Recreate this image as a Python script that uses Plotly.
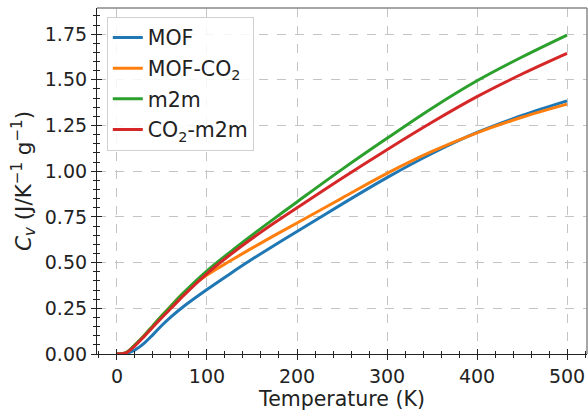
import plotly.graph_objects as go

# Temperature (K)
temperature = [0, 10, 20, 30, 40, 50, 60, 75, 100, 125, 150, 175, 200, 250, 300, 350, 400, 450, 500]

# Heat capacity Cv (J/K^-1 g^-1)
cv_mof = [0, 0.003, 0.022, 0.058, 0.106, 0.157, 0.203, 0.264, 0.353, 0.437, 0.518, 0.595, 0.67, 0.82, 0.965, 1.097, 1.212, 1.305, 1.385]
cv_mof_co2 = [0, 0.008, 0.05, 0.10, 0.155, 0.21, 0.263, 0.338, 0.432, 0.507, 0.579, 0.649, 0.717, 0.853, 0.988, 1.108, 1.21, 1.295, 1.367]
cv_m2m = [0, 0.008, 0.05, 0.10, 0.155, 0.21, 0.263, 0.34, 0.455, 0.555, 0.65, 0.742, 0.832, 1.01, 1.18, 1.345, 1.495, 1.625, 1.745]
cv_co2_m2m = [0, 0.006, 0.045, 0.095, 0.148, 0.20, 0.25, 0.325, 0.44, 0.54, 0.632, 0.718, 0.80, 0.962, 1.118, 1.268, 1.408, 1.532, 1.645]

series_names = ["MOF", "MOF-CO<sub>2</sub>", "m2m", "CO<sub>2</sub>-m2m"]
series_values = [cv_mof, cv_mof_co2, cv_m2m, cv_co2_m2m]
colors = ["#1f77b4", "#ff7f0e", "#2ca02c", "#d62728"]

x_ticks = [0, 100, 200, 300, 400, 500]
y_ticks = [0.00, 0.25, 0.50, 0.75, 1.00, 1.25, 1.50, 1.75]

X_RANGE = [-22.2, 522.2]
Y_RANGE = [0, 1.893]
FONT = "DejaVu Sans"

fig = go.Figure()
for i, (name, vals, col) in enumerate(zip(series_names, series_values, colors)):
    fig.add_trace(go.Scatter(
        x=temperature, y=vals, name=name, mode="lines",
        line=dict(color=col, width=3, shape="spline", smoothing=1.0),
        legendgroup=f"g{i}",
    ))

# invisible trace to activate overlay axes (inside ticks)
fig.add_trace(go.Scatter(x=[temperature[0]], y=[cv_mof[0]], xaxis="x2", yaxis="y2",
                         mode="markers", marker=dict(opacity=0), showlegend=False,
                         hoverinfo="skip"))

axis_common = dict(
    showline=True, linecolor="#222222", linewidth=1.2,
    ticks="outside", ticklen=5, tickwidth=1.2, tickcolor="#222222",
    gridcolor="#c4c4c4", griddash="dash", gridwidth=1,
    zeroline=False,
    tickfont=dict(family=FONT, size=19, color="#222222"),
)

fig.update_layout(
    width=588, height=413,
    margin=dict(l=97, r=1, t=8, b=59),
    plot_bgcolor="white", paper_bgcolor="white",
    font=dict(family=FONT, size=19, color="#222222"),
    xaxis=dict(
        range=X_RANGE, tickvals=x_ticks, ticktext=[str(v) for v in x_ticks],
        title=dict(text="Temperature (K)", font=dict(family=FONT, size=20.5), standoff=3),
        minor=dict(dtick=20, tick0=0, ticks="outside", ticklen=3, tickwidth=1, tickcolor="#222222", showgrid=False),
        **axis_common,
    ),
    yaxis=dict(
        range=Y_RANGE, tickvals=y_ticks, ticktext=[f"{v:.2f}" for v in y_ticks],
        title=dict(text="<i>C</i><sub><i>v</i></sub> (J/K<sup>−1</sup> g<sup>−1</sup>)",
                   font=dict(family=FONT, size=21.5), standoff=7),
        minor=dict(dtick=0.05, tick0=0, ticks="outside", ticklen=3, tickwidth=1, tickcolor="#222222", showgrid=False),
        **axis_common,
    ),
    xaxis2=dict(
        overlaying="x", anchor="y2", side="bottom", range=X_RANGE,
        tickvals=x_ticks, showticklabels=False, showgrid=False, zeroline=False, showline=False,
        ticks="inside", ticklen=5, tickwidth=1.2, tickcolor="#222222",
        minor=dict(dtick=20, tick0=0, ticks="inside", ticklen=3, tickwidth=1, tickcolor="#222222", showgrid=False),
    ),
    yaxis2=dict(
        overlaying="y", anchor="x2", side="left", range=Y_RANGE,
        tickvals=y_ticks, showticklabels=False, showgrid=False, zeroline=False, showline=False,
        ticks="inside", ticklen=5, tickwidth=1.2, tickcolor="#222222",
        minor=dict(dtick=0.05, tick0=0, ticks="inside", ticklen=3, tickwidth=1, tickcolor="#222222", showgrid=False),
    ),
    legend=dict(
        x=0.02, y=0.975, xanchor="left", yanchor="top",
        bgcolor="rgba(255,255,255,0.85)", bordercolor="#d0d0d0", borderwidth=1,
        font=dict(family=FONT, size=20.5, color="#222222"),
        traceorder="grouped", tracegroupgap=1,
    ),
    showlegend=True,
)

# top and right frame lines (light gray)
fig.add_shape(type="line", xref="paper", yref="paper", x0=0, x1=1, y0=1, y1=1,
              line=dict(color="#888888", width=1.5), layer="above")
fig.add_shape(type="line", xref="paper", yref="paper", x0=1, x1=1, y0=0, y1=1,
              line=dict(color="#888888", width=1.5), layer="above")

fig.write_html("out.html")
